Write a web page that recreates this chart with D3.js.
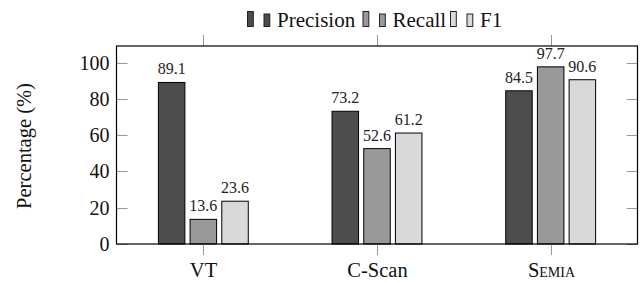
<!DOCTYPE html>
<html>
<head>
<meta charset="utf-8">
<script src="https://cdn.jsdelivr.net/npm/d3@7"></script>
<style>
  html, body { margin: 0; padding: 0; background: #fff; }
  svg { display: block; }
  text { font-family: 'Liberation Serif', 'Times New Roman', 'DejaVu Serif', serif; }
</style>
</head>
<body>
<svg id="chart" width="643" height="283"></svg>
<script>
const categories = ["VT", "C-Scan", "Semia"];
const series = ["Precision", "Recall", "F1"];
const precision = [89.1, 73.2, 84.5];
const recall = [13.6, 52.6, 97.7];
const f1 = [23.6, 61.2, 90.6];
const yTicks = [0, 20, 40, 60, 80, 100];
const colors = ["#4d4d4d", "#999999", "#d9d9d9"];

const valuesBySeries = [precision, recall, f1];

(function () {
const FONT = "'Liberation Serif', 'Times New Roman', 'DejaVu Serif', serif";
const svg = d3.select("#chart");
const pLeft = 116.5, pRight = 637.5, pTop = 46, pBottom = 244;

const x = d3.scaleBand().domain(categories).range([pLeft, pRight]).padding(0);
const x1 = d3.scaleBand().domain(series).range([-44.95, 44.95]).paddingInner(0.164).paddingOuter(0);
const y = d3.scaleLinear().domain([0, 109.2]).range([pBottom, pTop]);

// bars
series.forEach((s, si) => {
  const g = svg.append("g");
  categories.forEach((c, ci) => {
    const v = valuesBySeries[si][ci];
    const cx = x(c) + x.bandwidth() / 2;
    const bx = cx + x1(s);
    g.append("rect")
      .attr("x", bx).attr("y", y(v))
      .attr("width", x1.bandwidth()).attr("height", y(0) - y(v))
      .attr("fill", colors[si]).attr("stroke", "#000").attr("stroke-width", 1);
    g.append("text")
      .attr("x", bx + x1.bandwidth() / 2).attr("y", y(v) - 8)
      .attr("text-anchor", "middle").attr("font-family", FONT).attr("font-size", 16).attr("fill", "#222")
      .text(v.toFixed(1));
  });
});

// y ticks (inward, both sides)
yTicks.forEach(t => {
  const yy = Math.round(y(t)) + 0.5;
  svg.append("line").attr("x1", pLeft).attr("x2", pLeft + 11).attr("y1", yy).attr("y2", yy)
    .attr("stroke", "#999").attr("stroke-width", 1);
  svg.append("line").attr("x1", pRight - 11).attr("x2", pRight).attr("y1", yy).attr("y2", yy)
    .attr("stroke", "#999").attr("stroke-width", 1);
  svg.append("text").attr("x", pLeft - 7).attr("y", y(t)).attr("dy", "0.35em")
    .attr("text-anchor", "end").attr("font-family", FONT).attr("font-size", 20).attr("fill", "#111").text(t);
});

// x ticks (outward, top and bottom)
categories.forEach(c => {
  const cx = Math.round(x(c) + x.bandwidth() / 2) + 0.5;
  svg.append("line").attr("x1", cx).attr("x2", cx).attr("y1", pBottom).attr("y2", pBottom + 11)
    .attr("stroke", "#999");
  svg.append("line").attr("x1", cx).attr("x2", cx).attr("y1", pTop - 11).attr("y2", pTop)
    .attr("stroke", "#999");
  const t = svg.append("text").attr("x", cx).attr("y", 276.5)
    .attr("text-anchor", "middle").attr("font-family", FONT).attr("font-size", 20.5).attr("fill", "#111");
  if (c === "Semia") t.style("font-variant", "small-caps");
  t.text(c);
});

// axis box
svg.append("rect").attr("x", pLeft).attr("y", pTop).attr("width", pRight - pLeft).attr("height", pBottom - pTop)
  .attr("fill", "none").attr("stroke", "#000").attr("stroke-width", 1.2);

// y label
svg.append("text").attr("transform", `translate(24,${(pTop + pBottom) / 2 + 1}) rotate(-90)`)
  .attr("text-anchor", "middle").attr("dy", "0.35em").attr("font-family", FONT).attr("font-size", 20.5).attr("fill", "#111")
  .text("Percentage (%)");

// legend
const legendX = [247.5, 363, 450.5];
series.forEach((s, si) => {
  const lx = legendX[si];
  const base = 26.5;
  svg.append("rect").attr("x", lx).attr("y", base - 15).attr("width", 5.8).attr("height", 15)
    .attr("fill", colors[si]).attr("stroke", "#222").attr("stroke-width", 1);
  svg.append("rect").attr("x", lx + 16.5).attr("y", base - 12.5).attr("width", 5.8).attr("height", 12.5)
    .attr("fill", colors[si]).attr("stroke", "#222").attr("stroke-width", 1);
  svg.append("text").attr("x", lx + 29.5).attr("y", base).attr("font-family", FONT).attr("font-size", 21).attr("fill", "#111").text(s);
});
})();
</script>
</body>
</html>
